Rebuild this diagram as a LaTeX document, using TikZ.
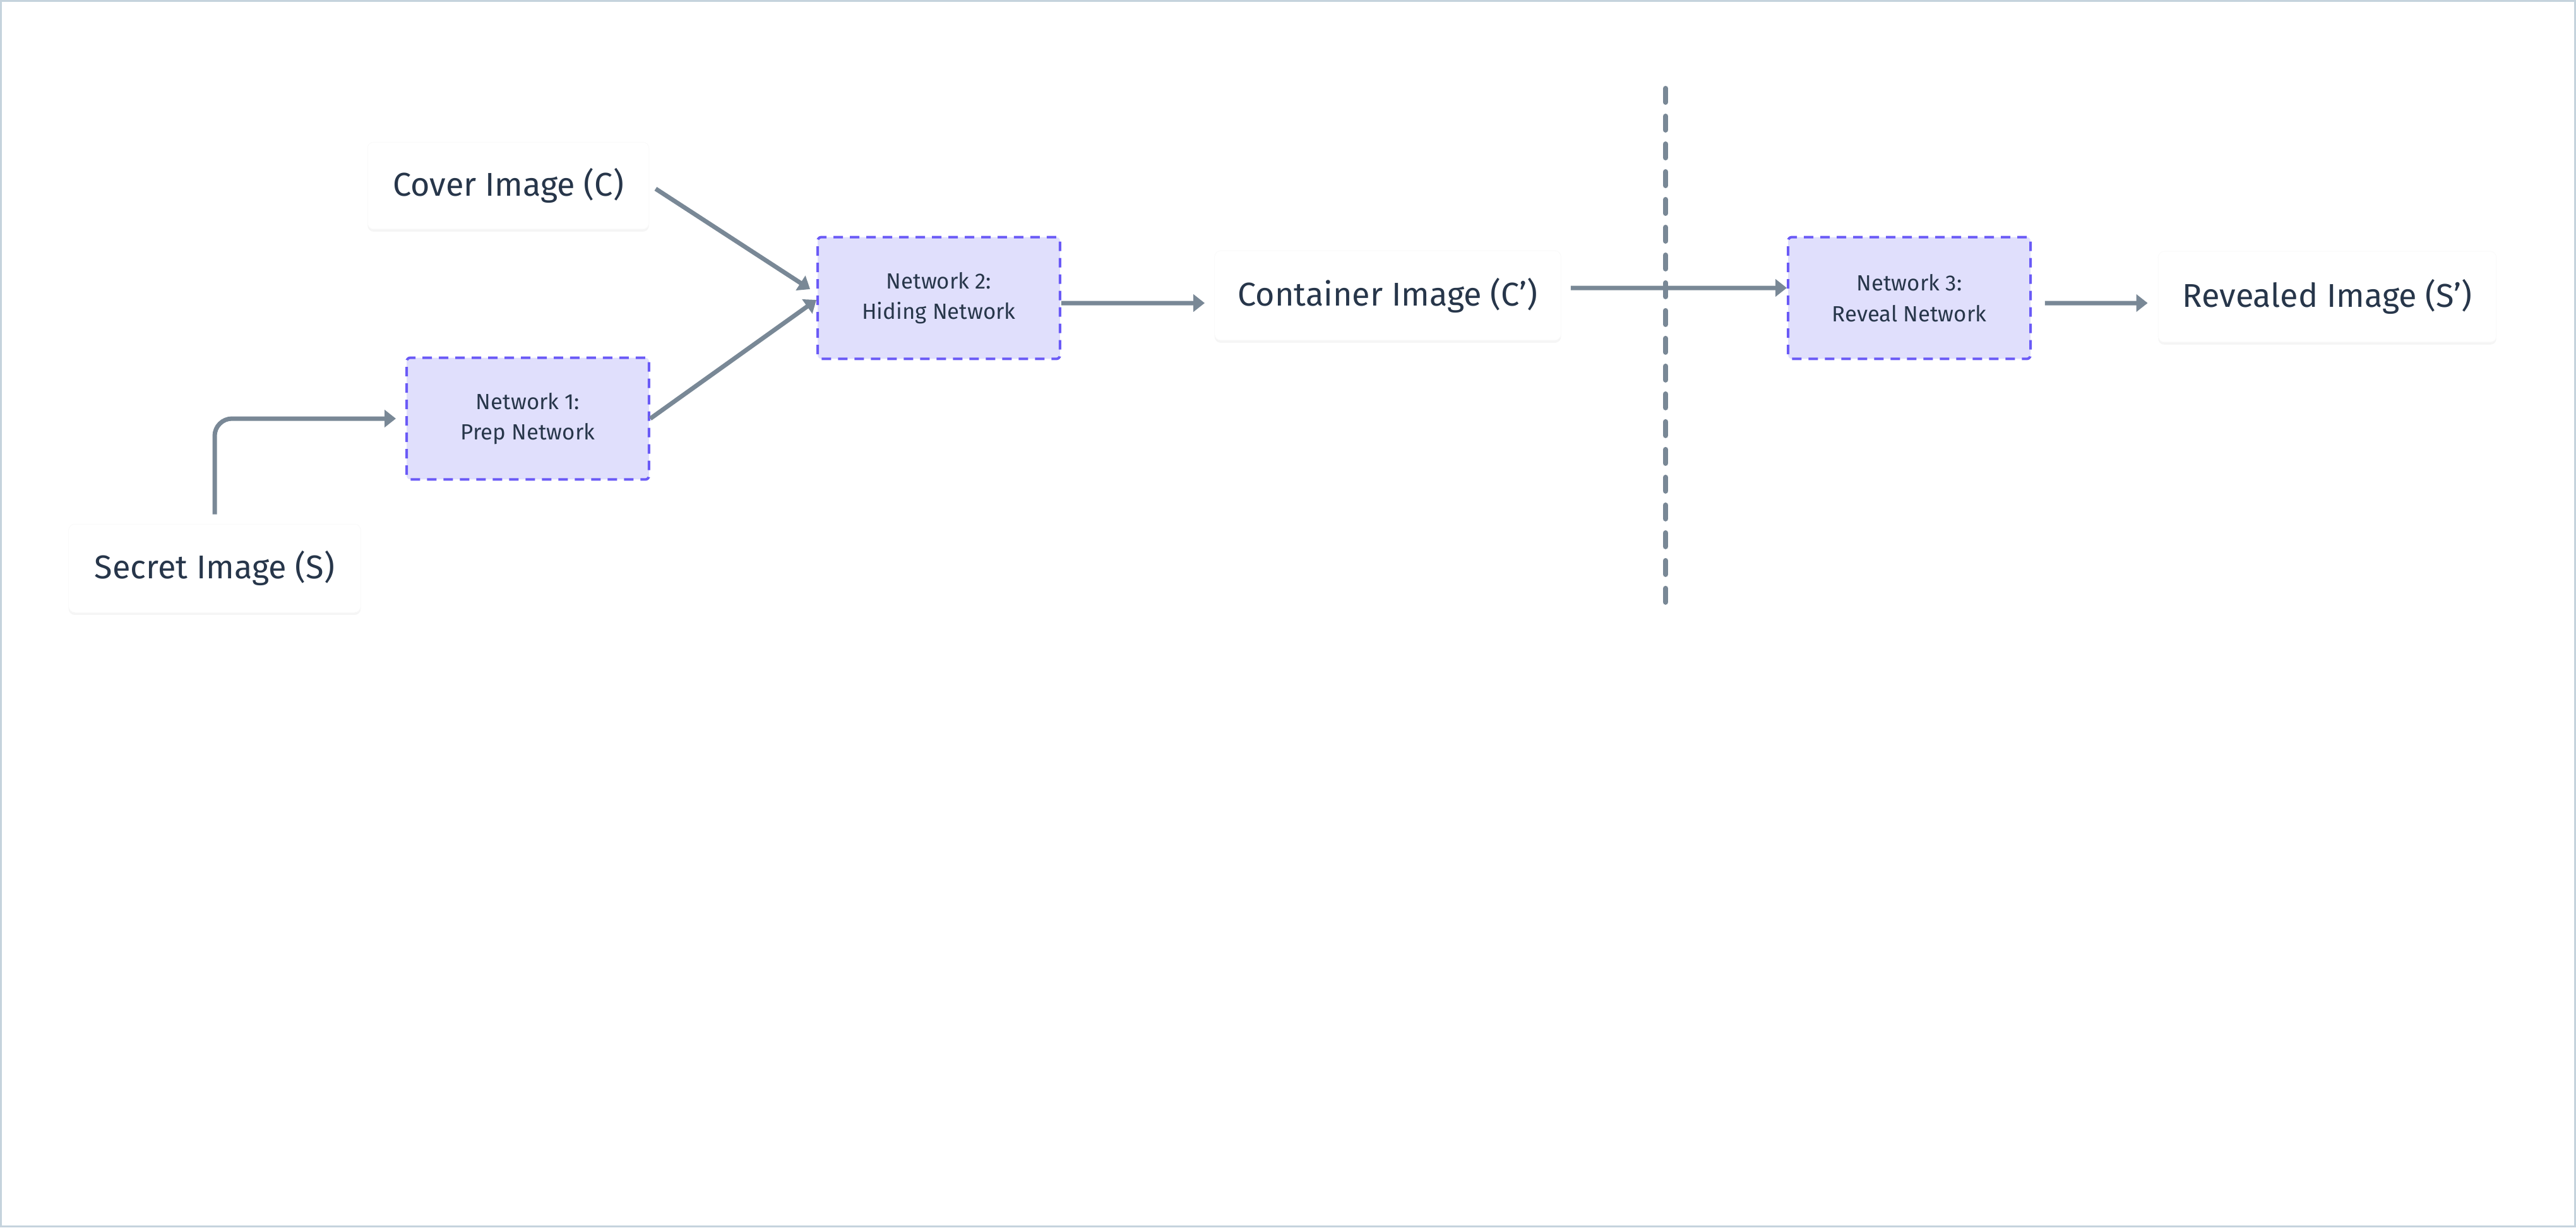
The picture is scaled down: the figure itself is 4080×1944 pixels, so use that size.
\documentclass[tikz,border=0pt]{standalone}
\usepackage{fontspec}
\setmainfont{Fira Sans}
\usetikzlibrary{arrows.meta,shadows,calc}
\definecolor{txt}{HTML}{27364A}
\definecolor{arrc}{HTML}{798896}
\definecolor{netfill}{HTML}{E0DFFC}
\definecolor{netdraw}{HTML}{6A5AF6}
\definecolor{framec}{HTML}{C5D3DD}
\tikzset{
  imgbox/.style={fill=white, draw=black!2, line width=0.02cm, rounded corners=0.2cm,
    drop shadow={shadow xshift=0cm, shadow yshift=-0.08cm, opacity=0.04, fill=black},
    font=\fontsize{29.7}{36}\selectfont, text=txt, inner sep=0pt},
  netbox/.style={fill=netfill, draw=netdraw, line width=0.08cm,
    dash pattern=on 0.3cm off 0.22cm, rounded corners=0.12cm, align=center,
    font=\fontsize{19.8}{27.5}\selectfont, text=txt, inner sep=0pt,
    minimum width=7.68cm, minimum height=3.86cm},
  arr/.style={draw=arrc, line width=0.14cm, -{Triangle[length=0.36cm,width=0.54cm]}},
  divider/.style={draw=arrc, line width=0.16cm, line cap=round, dash pattern=on 0.44cm off 0.44cm},
  framebox/.style={draw=framec, line width=0.06cm}
}
\begin{document}
\begin{tikzpicture}[x=0.02cm, y=-0.02cm]
\useasboundingbox (0,0) rectangle (4080,1944);
\draw[framebox] (1.5,1.5) rectangle (4078.5,1942.5);

\node[imgbox, minimum width=8.92cm, minimum height=2.76cm] (cover) at (805,294) {Cover Image (C)};
\node[imgbox, minimum width=9.26cm, minimum height=2.8cm] (secret) at (340,900) {Secret Image (S)};
\node[imgbox, minimum width=10.98cm, minimum height=2.84cm] (container) at (2198,468) {Container Image (C’)};
\node[imgbox, minimum width=10.72cm, minimum height=2.88cm] (revealed) at (3686,470) {Revealed Image (S’)};

\node[netbox] (net1) at (836,663) {Network 1:\\Prep Network};
\node[netbox] (net2) at (1487,472) {Network 2:\\Hiding Network};
\node[netbox] (net3) at (3024,472) {Network 3:\\Reveal Network};

\coordinate (dtop) at (2638,140);
\coordinate (dbot) at (2638,963);
\draw[divider] (dtop) -- (dbot);

\draw[arr, rounded corners=0.55cm] ([yshift=0.3cm]secret.north) |- ([xshift=-0.3cm]net1.west);
\draw[arr] ([xshift=0.2cm,yshift=-0.1cm]cover.east) -- ([xshift=-0.2cm,yshift=0.28cm]net2.west);
\draw[arr] (net1.east) -- ([yshift=-0.06cm]net2.west);
\draw[arr] ([yshift=-0.16cm]net2.east) -- ([xshift=-0.3cm,yshift=-0.24cm]container.west);
\draw[arr] ([xshift=0.3cm,yshift=0.24cm]container.east) -- ([yshift=0.32cm]net3.west);
\draw[arr] ([xshift=0.42cm,yshift=-0.16cm]net3.east) -- ([xshift=-0.32cm,yshift=-0.2cm]revealed.west);
\end{tikzpicture}
\end{document}
